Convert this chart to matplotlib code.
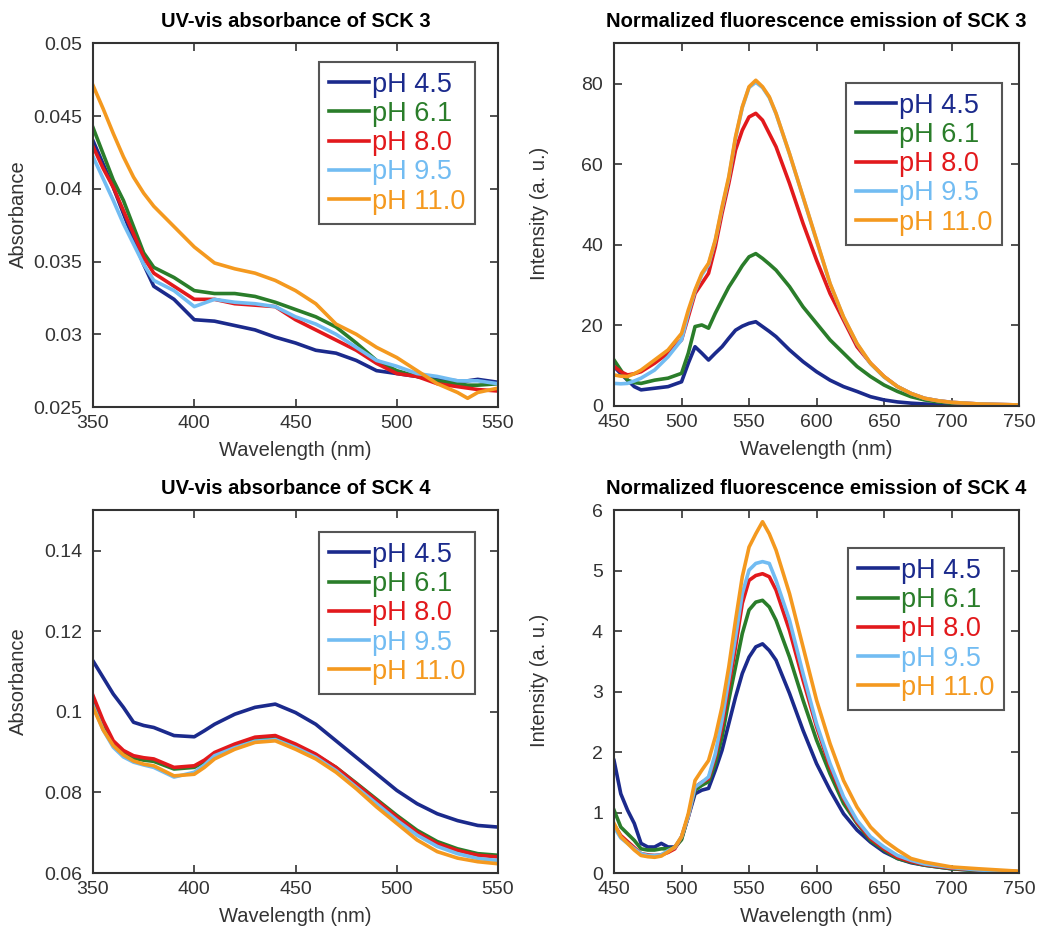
import numpy as np
import matplotlib
matplotlib.use("Agg")
import matplotlib.pyplot as plt
from matplotlib.ticker import FuncFormatter

plt.rcParams['font.family'] = ['Liberation Sans', 'DejaVu Sans']

labels = ['pH 4.5', 'pH 6.1', 'pH 8.0', 'pH 9.5', 'pH 11.0']
colors = ['#1b2a8c', '#2a7d2a', '#e2191c', '#72bcf2', '#f4991f']

# UV-vis SCK 3
wl_a = [350, 355, 360, 365, 370, 375, 380, 390, 400, 410, 420, 430, 440, 450,
        460, 470, 480, 490, 500, 510, 520, 530, 535, 540, 550]
abs3_45 = [.0433, .0417, .0401, .0383, .0365, .0348, .0333, .0324, .0310, .0309, .0306, .0303, .0298,
           .0294, .0289, .0287, .0282, .0275, .0273, .0271, .0269, .0268, .0268, .0269, .0267]
abs3_61 = [.0442, .0424, .0406, .0392, .0374, .0356, .0346, .0339, .0330, .0328, .0328, .0326, .0322,
           .0317, .0312, .0305, .0294, .0282, .0275, .0271, .0268, .0266, .0265, .0265, .0266]
abs3_80 = [.0429, .0414, .0401, .0385, .0369, .0353, .0342, .0333, .0324, .0324, .0321, .0320, .0319,
           .0310, .0303, .0296, .0289, .0280, .0273, .0271, .0266, .0264, .0263, .0262, .0261]
abs3_95 = [.0422, .0407, .0392, .0376, .0362, .0348, .0337, .0330, .0319, .0324, .0322, .0321, .0319,
           .0312, .0307, .0300, .0291, .0282, .0278, .0273, .0271, .0268, .0268, .0268, .0266]
abs3_110 = [.0471, .0455, .0438, .0422, .0408, .0397, .0388, .0374, .0360, .0349, .0345, .0342, .0337,
            .0330, .0321, .0307, .0300, .0291, .0284, .0275, .0266, .0260, .0256, .0260, .0263]

# fluorescence SCK 3
wl_b = [450, 455, 460, 465, 470, 480, 490, 500, 505, 510, 515, 520, 525, 530, 535, 540, 545, 550, 555,
        560, 565, 570, 580, 590, 600, 610, 620, 630, 640, 650, 660, 670, 680, 690, 700, 720, 750]
fl3_45 = [9.8, 8.0, 6.4, 4.8, 4.0, 4.4, 4.8, 6.0, 10.6, 14.7, 13.1, 11.4, 13.1, 14.7, 16.8, 18.8, 19.8,
          20.5, 20.9, 19.7, 18.5, 17.2, 13.9, 11.0, 8.5, 6.4, 4.8, 3.6, 2.3, 1.5, 1.0, 0.7, 0.5, 0.35,
          0.25, 0.1, 0.05]
fl3_61 = [11.4, 8.9, 6.4, 5.8, 5.6, 6.4, 6.9, 8.1, 13.1, 19.7, 20.1, 19.3, 23.0, 26.3, 29.5, 32.1, 34.8,
          37.0, 37.8, 36.6, 35.2, 33.7, 29.6, 24.6, 20.5, 16.4, 13.1, 9.8, 7.3, 5.2, 3.6, 2.3, 1.5, 1.0,
          0.7, 0.3, 0.15]
fl3_80 = [9.8, 8.5, 7.7, 8.0, 8.5, 10.6, 13.1, 16.4, 22.1, 27.9, 30.4, 32.9, 39.5, 47.8, 55.2, 63.5, 68.4,
          71.7, 72.6, 70.9, 67.6, 64.3, 55.2, 45.3, 36.2, 27.9, 21.3, 14.7, 10.6, 7.3, 4.8, 3.1, 1.9, 1.3,
          0.9, 0.5, 0.25]
fl3_95 = [5.6, 5.5, 5.6, 6.2, 6.9, 8.9, 12.2, 16.4, 23.0, 28.5, 32.5, 35.0, 41.0, 49.0, 56.5, 66.5, 74.0,
          79.0, 80.3, 79.0, 76.5, 72.5, 62.5, 51.8, 41.0, 30.3, 22.0, 15.4, 10.5, 7.2, 4.8, 3.1, 1.9, 1.3,
          0.9, 0.5, 0.25]
fl3_110 = [7.7, 7.4, 7.3, 8.0, 8.9, 11.4, 13.9, 18.0, 23.8, 28.8, 32.9, 35.4, 41.2, 49.4, 56.9, 66.8, 74.2,
           79.2, 80.8, 79.2, 76.7, 72.6, 62.6, 51.9, 41.2, 30.4, 22.1, 15.5, 10.6, 7.3, 4.8, 3.1, 1.9, 1.3,
           0.9, 0.5, 0.25]

# UV-vis SCK 4
wl_c = [350, 355, 360, 365, 370, 375, 380, 390, 400, 405, 410, 420, 430, 440, 450, 460, 470, 480, 490,
        500, 510, 520, 530, 540, 550]
abs4_45 = [.1126, .1085, .1044, .1011, .0974, .0966, .0961, .0941, .0938, .0953, .0969, .0994, .1011,
           .1019, .0998, .0969, .0928, .0887, .0846, .0805, .0772, .0747, .0730, .0718, .0714]
abs4_61 = [.1027, .0968, .0920, .0898, .0885, .0880, .0877, .0858, .0862, .0876, .0895, .0916, .0932,
           .0937, .0917, .0893, .0862, .0823, .0783, .0743, .0706, .0678, .0660, .0648, .0644]
abs4_80 = [.1040, .0978, .0928, .0904, .0891, .0886, .0883, .0862, .0866, .0880, .0899, .0920, .0937,
           .0941, .0920, .0895, .0862, .0821, .0780, .0739, .0701, .0673, .0656, .0644, .0640]
abs4_95 = [.1015, .0955, .0912, .0888, .0875, .0868, .0862, .0838, .0850, .0868, .0891, .0911, .0927,
           .0931, .0911, .0887, .0854, .0813, .0772, .0731, .0694, .0666, .0648, .0636, .0631]
abs4_110 = [.1011, .0955, .0916, .0893, .0878, .0870, .0866, .0841, .0845, .0862, .0883, .0907, .0924,
            .0928, .0907, .0883, .0850, .0809, .0764, .0723, .0682, .0653, .0637, .0628, .0623]

# fluorescence SCK 4
wl_d = [450, 455, 460, 465, 470, 475, 480, 485, 490, 495, 500, 505, 510, 515, 520, 525, 530, 535, 540,
        545, 550, 555, 560, 565, 570, 580, 590, 600, 610, 620, 630, 640, 650, 660, 670, 680, 700, 720, 750]
fl4_45 = [1.86, 1.31, 1.04, 0.82, 0.49, 0.43, 0.43, 0.49, 0.43, 0.43, 0.57, 0.93, 1.31, 1.37, 1.40, 1.70,
          2.03, 2.47, 2.91, 3.30, 3.57, 3.74, 3.79, 3.68, 3.52, 2.97, 2.36, 1.81, 1.37, 0.98, 0.71, 0.51,
          0.35, 0.24, 0.17, 0.13, 0.07, 0.04, 0.02]
fl4_61 = [1.04, 0.76, 0.65, 0.54, 0.40, 0.38, 0.38, 0.40, 0.40, 0.42, 0.55, 0.95, 1.37, 1.45, 1.51, 1.81,
          2.25, 2.86, 3.41, 3.96, 4.35, 4.48, 4.51, 4.40, 4.18, 3.57, 2.86, 2.20, 1.64, 1.15, 0.82, 0.54,
          0.38, 0.24, 0.18, 0.13, 0.07, 0.04, 0.02]
fl4_80 = [0.80, 0.62, 0.52, 0.42, 0.32, 0.30, 0.29, 0.30, 0.34, 0.40, 0.60, 0.93, 1.42, 1.50, 1.56, 1.92,
          2.42, 3.08, 3.74, 4.46, 4.84, 4.92, 4.95, 4.90, 4.68, 4.01, 3.19, 2.42, 1.75, 1.23, 0.84, 0.57,
          0.40, 0.26, 0.19, 0.14, 0.08, 0.05, 0.02]
fl4_95 = [0.76, 0.58, 0.49, 0.40, 0.32, 0.29, 0.29, 0.30, 0.37, 0.42, 0.60, 0.93, 1.42, 1.50, 1.59, 1.97,
          2.53, 3.20, 3.90, 4.62, 5.01, 5.12, 5.15, 5.12, 4.84, 4.18, 3.30, 2.47, 1.81, 1.26, 0.87, 0.60,
          0.43, 0.29, 0.21, 0.15, 0.09, 0.05, 0.02]
fl4_110 = [0.82, 0.60, 0.49, 0.38, 0.29, 0.27, 0.26, 0.28, 0.35, 0.43, 0.60, 0.98, 1.53, 1.70, 1.86, 2.25,
           2.75, 3.41, 4.18, 4.90, 5.39, 5.61, 5.81, 5.61, 5.34, 4.62, 3.74, 2.86, 2.14, 1.53, 1.09, 0.76,
           0.54, 0.38, 0.24, 0.18, 0.10, 0.07, 0.03]

panels = [
    (wl_a, [abs3_45, abs3_61, abs3_80, abs3_95, abs3_110], 'UV-vis absorbance of SCK 3', 'Absorbance',
     (350, 550), (0.025, 0.05), np.arange(0.025, 0.0501, 0.005), (0.943, 0.948)),
    (wl_b, [fl3_45, fl3_61, fl3_80, fl3_95, fl3_110], 'Normalized fluorescence emission of SCK 3',
     'Intensity (a. u.)', (450, 750), (0, 90), [0, 20, 40, 60, 80], (0.958, 0.890)),
    (wl_c, [abs4_45, abs4_61, abs4_80, abs4_95, abs4_110], 'UV-vis absorbance of SCK 4', 'Absorbance',
     (350, 550), (0.06, 0.15), np.arange(0.06, 0.1401, 0.02), (0.943, 0.939)),
    (wl_d, [fl4_45, fl4_61, fl4_80, fl4_95, fl4_110], 'Normalized fluorescence emission of SCK 4',
     'Intensity (a. u.)', (450, 750), (0, 6), [0, 1, 2, 3, 4, 5, 6], (0.963, 0.895)),
]

positions = [
    [0.0886, 0.5647, 0.3857, 0.389],
    [0.5848, 0.5658, 0.3857, 0.388],
    [0.0886, 0.0663, 0.3857, 0.388],
    [0.5848, 0.0663, 0.3857, 0.388],
]

fig = plt.figure(figsize=(10.5, 9.35), dpi=100)

for pos, (x, series, title, ylab, xl, yl, yt, anchor) in zip(positions, panels):
    ax = fig.add_axes(pos)
    for y, lab, c in zip(series, labels, colors):
        ax.plot(x, y, color=c, lw=2.6, label=lab)
    ax.set_xlim(*xl)
    ax.set_ylim(*yl)
    ax.set_yticks(yt)
    ax.yaxis.set_major_formatter(FuncFormatter(lambda v, p: '%g' % round(v, 4)))
    ax.set_title(title, fontsize=14.5, fontweight='bold', pad=12)
    ax.set_xlabel('Wavelength (nm)', fontsize=14.5, color='#333333', labelpad=6)
    ax.set_ylabel(ylab, fontsize=14.5, color='#333333')
    ax.yaxis.set_label_coords(-0.16, 0.53)
    ax.tick_params(direction='in', top=True, right=True, length=6, width=1.2,
                   labelsize=14, labelcolor='#333333', color='#333333')
    ax.tick_params(axis='x', pad=6)
    ax.tick_params(axis='y', pad=8)
    for s in ax.spines.values():
        s.set_linewidth(1.5)
        s.set_color('#333333')
    leg = ax.legend(loc='upper right', bbox_to_anchor=anchor, borderaxespad=0, fontsize=19.5,
                    labelcolor='linecolor', handlelength=1.5, handletextpad=0.1,
                    labelspacing=0.12, borderpad=0.35, fancybox=False, framealpha=1)
    leg.get_frame().set_edgecolor('#555555')
    leg.get_frame().set_linewidth(1.5)

fig.savefig('out.png', dpi=100)
